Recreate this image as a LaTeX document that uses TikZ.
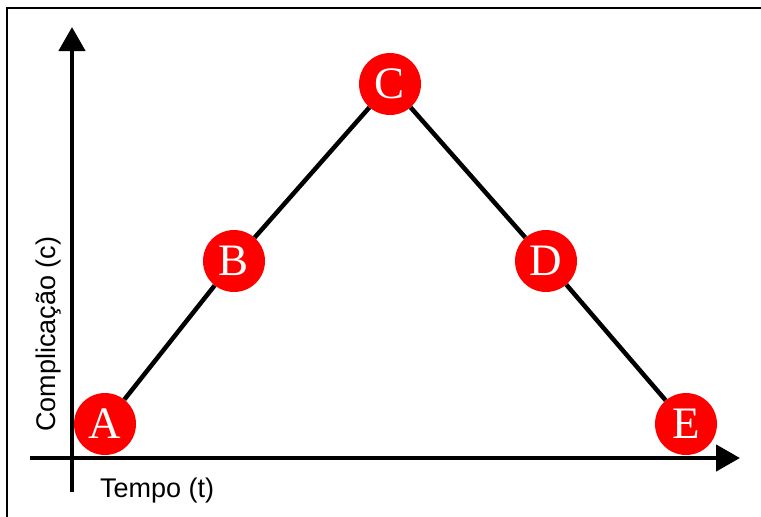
\documentclass[tikz,border=0pt]{standalone}
\usepackage{fontspec}
\setmainfont{Liberation Serif}
\setsansfont{Liberation Sans}
\usetikzlibrary{arrows.meta}

\begin{document}
\begin{tikzpicture}[x=1pt, y=-1pt,
  axis/.style={line width=4.5pt, -{Triangle[length=24pt, width=26pt]}},
  stage/.style={circle, fill=red, text=white, minimum size=62pt,
                inner sep=0pt, font=\fontsize{45}{45}\selectfont},
  link/.style={line width=4.5pt},
  lbl/.style={font=\sffamily\fontsize{27}{30}\selectfont, inner sep=0pt}]

  \useasboundingbox (0,0) rectangle (761,517);

  % frame
  \draw[line width=2pt] (7,517) -- (7,8) -- (761,8);

  % axes
  \coordinate (ybot) at (72,492);
  \coordinate (ytop) at (72,27);
  \coordinate (xleft) at (30,458);
  \coordinate (xright) at (740,458);
  \draw[axis] (ybot) -- (ytop);
  \draw[axis] (xleft) -- (xright);

  \node[lbl, anchor=base west] (tlabel) at (100,497) {Tempo (t)};
  \node[lbl, anchor=base, rotate=90] (clabel) at (55,334) {Complicação (c)};

  % stages
  \node[stage] (A) at (105,424) {A};
  \node[stage] (B) at (234,261) {B};
  \node[stage] (C) at (390,84) {C};
  \node[stage] (D) at (546,261) {D};
  \node[stage] (E) at (686,424) {E};

  \draw[link] (A) -- (B);
  \draw[link] (B) -- (C);
  \draw[link] (C) -- (D);
  \draw[link] (D) -- (E);
\end{tikzpicture}
\end{document}
